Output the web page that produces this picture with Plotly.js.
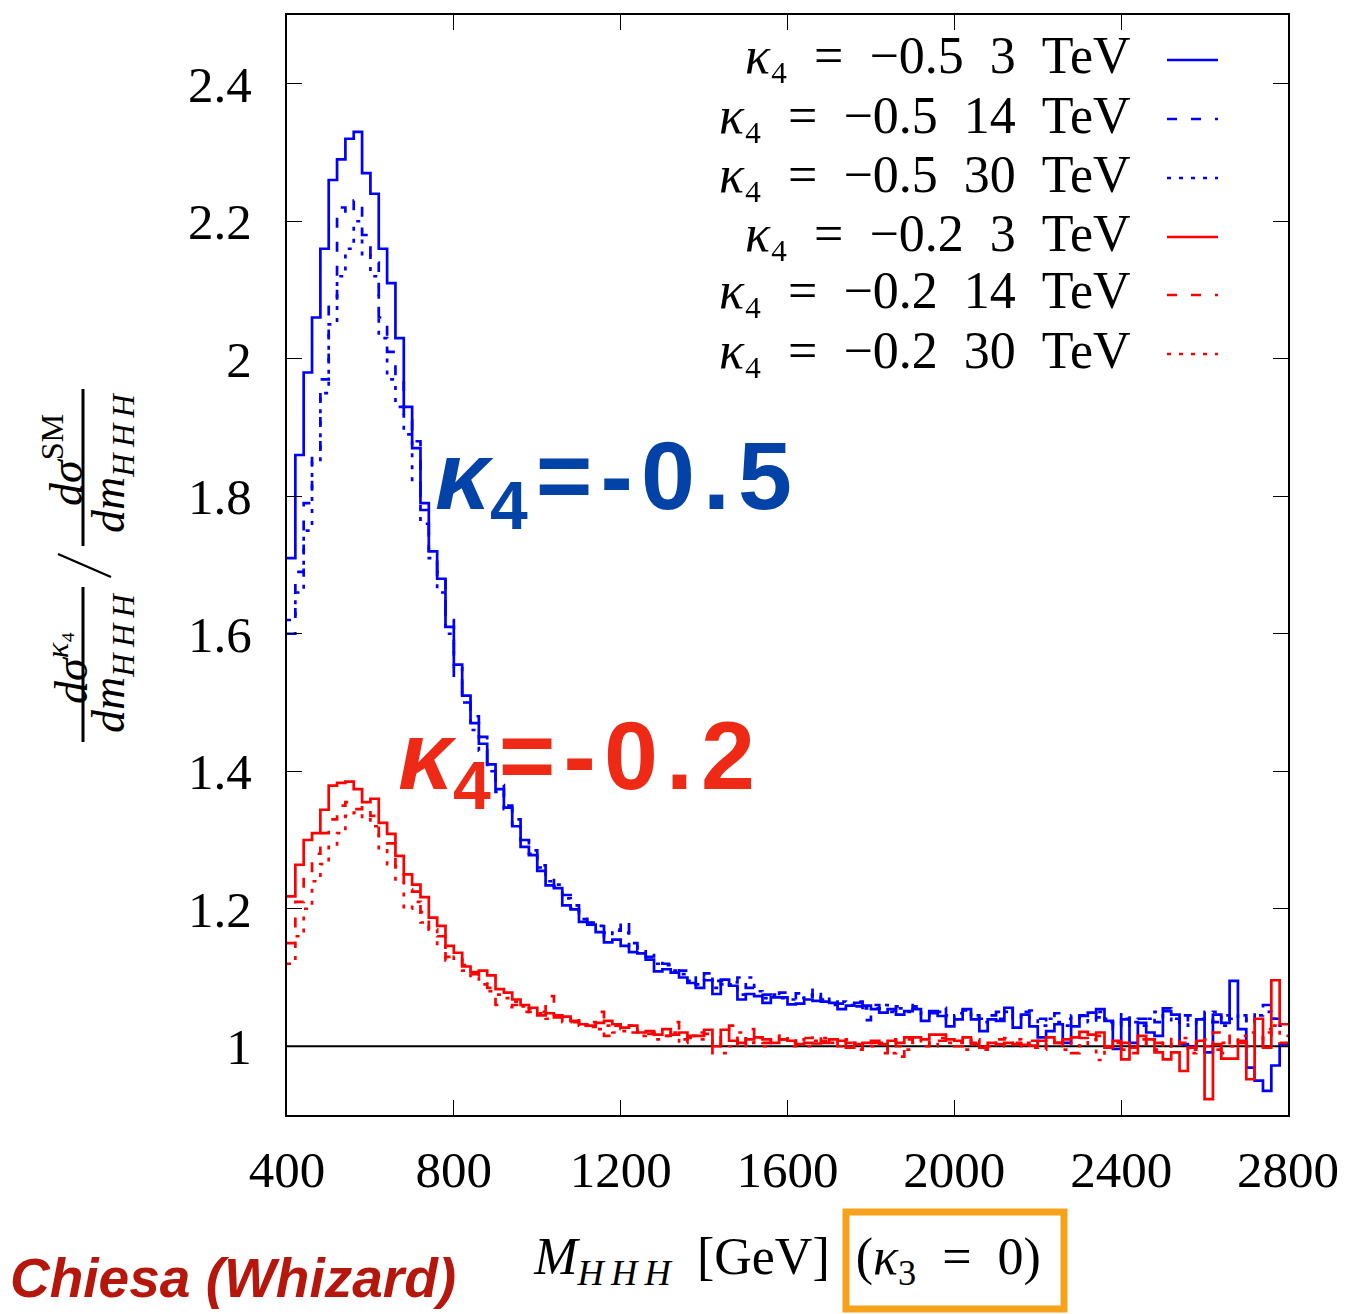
<!DOCTYPE html>
<html>
<head>
<meta charset="utf-8">
<script src="https://cdn.plot.ly/plotly-3.0.1.min.js"></script>
<style>
  html, body { margin: 0; padding: 0; background: #ffffff; }
  #chart { width: 1347px; height: 1314px; }
</style>
</head>
<body>
<div id="chart"></div>
<script>
// ---------------- data (ratio dσ^κ4/dm / dσ^SM/dm per 20 GeV bin) ----------------
const binStart = 400;
const binWidth = 20;
const nBins = 120;

const blue3TeV = [
  1.71, 1.86, 1.98, 2.06, 2.16, 2.26, 2.29, 2.32, 2.33, 2.27,
  2.24, 2.16, 2.11, 2.03, 1.93, 1.87, 1.79, 1.72, 1.68, 1.61,
  1.555, 1.51, 1.47, 1.44, 1.41, 1.374, 1.347, 1.32, 1.29, 1.278,
  1.255, 1.234, 1.23, 1.205, 1.199, 1.181, 1.177, 1.166, 1.151, 1.155,
  1.146, 1.137, 1.135, 1.126, 1.109, 1.112, 1.107, 1.100, 1.092, 1.085,
  1.096, 1.076, 1.097, 1.088, 1.068, 1.076, 1.073, 1.063, 1.071, 1.071,
  1.061, 1.062, 1.068, 1.066, 1.065, 1.063, 1.054, 1.059, 1.063, 1.059,
  1.054, 1.049, 1.054, 1.046, 1.051, 1.054, 1.037, 1.051, 1.044, 1.029,
  1.039, 1.054, 1.039, 1.022, 1.039, 1.037, 1.056, 1.027, 1.046, 1.029,
  1.013, 1.022, 1.032, 1.005, 1.029, 1.044, 1.049, 1.054, 1.037, 0.996,
  1.039, 1.005, 1.034, 1.020, 1.015, 1.051, 1.046, 1.003, 1.000, 1.039,
  0.991, 1.046, 1.034, 1.095, 1.025, 0.969, 0.950, 0.935, 0.972, 1.003
];
const blue14TeV = [
  1.60, 1.69, 1.79, 1.86, 1.97, 2.08, 2.22, 2.21, 2.23, 2.18,
  2.14, 2.06, 2.01, 1.97, 1.91, 1.88, 1.78, 1.72, 1.69, 1.62,
  1.53, 1.50, 1.48, 1.45, 1.41, 1.38, 1.35, 1.33, 1.30, 1.285,
  1.263, 1.245, 1.232, 1.22, 1.205, 1.19, 1.18, 1.178, 1.165, 1.168,
  1.183, 1.15, 1.14, 1.13, 1.13, 1.12, 1.115, 1.11, 1.10, 1.09,
  1.106, 1.095, 1.09, 1.093, 1.10, 1.085, 1.078, 1.075, 1.07, 1.078,
  1.07, 1.077, 1.072, 1.085, 1.068, 1.065, 1.062, 1.06, 1.058, 1.038,
  1.06, 1.055, 1.052, 1.058, 1.06, 1.055, 1.05, 1.048, 1.056, 1.045,
  1.048, 1.052, 1.045, 1.04, 1.045, 1.05, 1.055, 1.045, 1.05, 1.052,
  1.04, 1.035, 1.048, 1.04, 1.03, 1.045, 1.05, 1.042, 1.035, 1.025,
  1.05, 1.03, 1.04, 1.045, 1.035, 1.055, 1.04, 1.03, 1.045, 1.04,
  1.05, 1.035, 1.045, 1.04, 1.045, 1.03, 1.05, 1.06, 1.04, 1.045
];
const blue30TeV = [
  1.62, 1.66, 1.75, 1.85, 1.95, 2.05, 2.12, 2.16, 2.20, 2.15,
  2.12, 2.03, 1.97, 1.93, 1.89, 1.82, 1.76, 1.71, 1.66, 1.60,
  1.55, 1.50, 1.46, 1.43, 1.40, 1.37, 1.345, 1.32, 1.30, 1.28,
  1.26, 1.24, 1.235, 1.215, 1.20, 1.185, 1.18, 1.175, 1.16, 1.17,
  1.165, 1.145, 1.14, 1.135, 1.12, 1.118, 1.11, 1.105, 1.095, 1.09,
  1.10, 1.085, 1.095, 1.09, 1.075, 1.10, 1.08, 1.07, 1.075, 1.07,
  1.068, 1.07, 1.075, 1.07, 1.072, 1.06, 1.065, 1.06, 1.065, 1.055,
  1.055, 1.06, 1.05, 1.055, 1.05, 1.058, 1.045, 1.05, 1.05, 1.04,
  1.045, 1.05, 1.04, 1.035, 1.045, 1.04, 1.05, 1.04, 1.045, 1.04,
  1.03, 1.04, 1.035, 1.03, 1.045, 1.04, 1.035, 1.05, 1.04, 1.03,
  1.04, 1.035, 1.03, 1.04, 1.05, 1.04, 1.035, 1.045, 1.03, 1.04,
  1.035, 1.05, 1.03, 1.045, 1.04, 1.035, 1.045, 1.05, 1.04, 1.03
];
const red3TeV = [
  1.218, 1.264, 1.300, 1.310, 1.344, 1.379, 1.383, 1.385, 1.374, 1.355,
  1.360, 1.325, 1.309, 1.277, 1.250, 1.235, 1.217, 1.187, 1.175, 1.146,
  1.136, 1.116, 1.108, 1.110, 1.103, 1.083, 1.078, 1.068, 1.060, 1.056,
  1.045, 1.048, 1.042, 1.043, 1.037, 1.032, 1.030, 1.034, 1.037, 1.032,
  1.027, 1.030, 1.020, 1.022, 1.017, 1.025, 1.017, 1.020, 1.015, 1.015,
  1.024, 1.000, 1.024, 1.008, 1.005, 1.010, 1.013, 1.010, 1.005, 1.010,
  1.008, 1.003, 1.005, 1.004, 1.005, 1.010, 1.008, 0.998, 1.003, 1.005,
  1.008, 1.003, 1.008, 1.005, 1.013, 1.013, 1.010, 1.017, 1.017, 1.010,
  1.008, 1.013, 1.003, 0.998, 1.005, 1.003, 1.005, 1.003, 1.002, 1.001,
  1.008, 1.013, 1.005, 1.010, 1.013, 1.021, 1.017, 1.020, 0.998, 1.008,
  0.981, 0.998, 1.015, 1.010, 0.991, 0.981, 0.991, 0.964, 0.998, 1.008,
  0.923, 1.003, 0.982, 0.982, 1.008, 0.952, 1.040, 0.998, 1.096, 1.032
];
const red14TeV = [
  1.15, 1.21, 1.25, 1.28, 1.31, 1.33, 1.35, 1.355, 1.345, 1.35,
  1.335, 1.30, 1.295, 1.262, 1.228, 1.225, 1.195, 1.165, 1.16, 1.13,
  1.125, 1.118, 1.105, 1.10, 1.085, 1.06, 1.057, 1.06, 1.05, 1.055,
  1.05, 1.073, 1.045, 1.04, 1.035, 1.03, 1.028, 1.05, 1.015, 1.03,
  1.025, 1.02, 1.025, 1.018, 1.02, 1.015, 1.035, 1.01, 1.012, 1.02,
  1.018, 0.99, 1.015, 1.03, 0.995, 1.025, 1.01, 1.005, 1.015, 1.01,
  1.0, 1.015, 1.012, 1.018, 1.008, 1.0, 1.015, 1.005, 0.995, 1.01,
  1.005, 0.99, 1.01, 0.985, 1.01, 1.005, 1.0, 1.012, 1.008, 1.01,
  1.0, 1.01, 1.005, 0.995, 1.0, 1.01, 1.012, 1.005, 1.0, 1.008,
  0.995, 1.01, 1.005, 1.0, 0.99, 1.012, 1.005, 1.015, 1.0, 0.995,
  1.005, 0.99, 1.01, 1.0, 1.005, 0.995, 1.015, 1.005, 0.995, 1.01,
  1.0, 1.02, 0.99, 1.015, 1.005, 1.02, 1.0, 1.025, 1.01, 1.005
];
const red30TeV = [
  1.12, 1.16, 1.20, 1.24, 1.265, 1.29, 1.31, 1.335, 1.34, 1.33,
  1.32, 1.285, 1.265, 1.24, 1.20, 1.21, 1.18, 1.17, 1.145, 1.125,
  1.13, 1.11, 1.10, 1.09, 1.08, 1.075, 1.07, 1.065, 1.058, 1.05,
  1.048, 1.04, 1.045, 1.035, 1.04, 1.03, 1.035, 1.025, 1.03, 1.02,
  1.022, 1.03, 1.015, 1.02, 1.01, 1.015, 1.02, 1.005, 1.015, 1.01,
  1.01, 1.005, 0.99, 1.0, 1.02, 1.005, 1.012, 1.0, 1.01, 1.015,
  1.005, 1.01, 1.0, 1.008, 1.012, 1.005, 1.0, 1.01, 1.005, 0.998,
  1.0, 1.005, 0.99, 1.0, 0.995, 1.01, 1.005, 1.0, 1.012, 1.005,
  1.005, 0.995, 1.01, 1.0, 1.0, 1.005, 1.0, 1.01, 1.005, 0.998,
  1.0, 1.005, 1.01, 0.995, 1.005, 1.0, 1.01, 0.98, 1.0, 1.005,
  0.995, 1.005, 1.0, 1.01, 0.995, 1.005, 1.0, 1.012, 0.99, 1.005,
  1.01, 0.995, 1.005, 1.0, 1.015, 1.0, 1.01, 1.02, 1.03, 1.015
];

const seriesNames = [
  "κ4 = −0.5 3 TeV", "κ4 = −0.5 14 TeV", "κ4 = −0.5 30 TeV",
  "κ4 = −0.2 3 TeV", "κ4 = −0.2 14 TeV", "κ4 = −0.2 30 TeV"
];
const SP = "\u2002"; // en space (TeX-like wide spacing)
const TH = "\u2009"; // thin space
const HS = "\u200A"; // hair space
const K4 = "<i>κ</i>₄";
const legendLabels = [
  K4 + SP + "=" + SP + "−0.5" + SP + "3" + SP + "TeV",
  K4 + SP + "=" + SP + "−0.5" + SP + "14" + SP + "TeV",
  K4 + SP + "=" + SP + "−0.5" + SP + "30" + SP + "TeV",
  K4 + SP + "=" + SP + "−0.2" + SP + "3" + SP + "TeV",
  K4 + SP + "=" + SP + "−0.2" + SP + "14" + SP + "TeV",
  K4 + SP + "=" + SP + "−0.2" + SP + "30" + SP + "TeV"
];
const xTickVals = [400, 800, 1200, 1600, 2000, 2400, 2800];
const yTickVals = [1, 1.2, 1.4, 1.6, 1.8, 2, 2.2, 2.4];
const yTickText = ["1", "1.2", "1.4", "1.6", "1.8", "2", "2.2", "2.4"];

// ---------------- styles ----------------
const BLUE = "#0000ff", RED = "#ff0000";
const styles = [
  {color: BLUE, dash: "solid"}, {color: BLUE, dash: "10px,14px"}, {color: BLUE, dash: "4px,8px"},
  {color: RED, dash: "solid"},  {color: RED, dash: "10px,14px"},  {color: RED, dash: "4px,8px"}
];
const allSeries = [blue3TeV, blue14TeV, blue30TeV, red3TeV, red14TeV, red30TeV];

// bin edges (step histogram)
const edges = [];
for (let i = 0; i <= nBins; i++) edges.push(binStart + binWidth * i);

const traces = allSeries.map((vals, k) => ({
  type: "scatter",
  mode: "lines",
  name: seriesNames[k],
  x: edges,
  y: vals.concat([vals[vals.length - 1]]),
  line: {shape: "hv", color: styles[k].color, dash: styles[k].dash, width: 2.7},
  showlegend: false,
  hoverinfo: "x+y+name"
}));

// pixel -> paper helpers (plot area: x 287..1288, y 15..1115)
const PL = 287, PR = 1288, PT = 15, PB = 1115;
const px = v => (v - PL) / (PR - PL);
const py = v => (PB - v) / (PB - PT);

const SERIF = "Liberation Serif, DejaVu Serif, serif";
const annotations = [];
const shapes = [];

// y = 1 reference line
shapes.push({type: "line", xref: "paper", x0: 0, x1: 1, yref: "y", y0: 1, y1: 1,
  line: {color: "#000000", width: 2.2}, layer: "below"});

// manual legend (text right-aligned, sample line on the right)
const rowY = [60, 119, 178, 237, 295, 354];
legendLabels.forEach((lab, k) => {
  annotations.push({xref: "paper", yref: "paper", x: px(1131), y: py(rowY[k] - 4),
    xanchor: "right", yanchor: "middle", showarrow: false, text: lab,
    borderpad: 0, borderwidth: 0,
    font: {family: SERIF, size: 52, color: "#000"}});
  shapes.push({type: "line", xref: "paper", yref: "paper",
    x0: px(1167), x1: px(1218), y0: py(rowY[k]), y1: py(rowY[k]),
    line: {color: styles[k].color, dash: styles[k].dash, width: 2.7}});
});

// big labels
annotations.push({xref: "paper", yref: "paper", x: px(433), y: py(482), xanchor: "left", yanchor: "middle",
  showarrow: false, text: "<b><i>κ</i><sub>4</sub>" + HS + "=" + HS + "-" + HS + "0" + HS + "." + HS + "5</b>",
  font: {family: "Liberation Sans, Arial, sans-serif", size: 97, color: "#0343a8"}});
annotations.push({xref: "paper", yref: "paper", x: px(396), y: py(762), xanchor: "left", yanchor: "middle",
  showarrow: false, text: "<b><i>κ</i><sub>4</sub>" + HS + "=" + HS + "-" + HS + "0" + HS + "." + HS + "2</b>",
  font: {family: "Liberation Sans, Arial, sans-serif", size: 97, color: "#ee2916"}});

// Chiesa (Whizard)
annotations.push({xref: "paper", yref: "paper", x: px(8), y: py(1278), xanchor: "left", yanchor: "middle",
  showarrow: false, text: "<b><i>Chiesa (Whizard)</i></b>",
  font: {family: "Liberation Sans, Arial, sans-serif", size: 55, color: "#b5170c"}});

// orange box around (κ3 = 0)
shapes.push({type: "rect", xref: "paper", yref: "paper",
  x0: px(846), x1: px(1064), y0: py(1309), y1: py(1212),
  line: {color: "#f7a21b", width: 7}});

// y-axis title as a rotated fraction
const yT = {family: SERIF, size: 46, color: "#000"};
annotations.push({xref: "paper", yref: "paper", x: px(68), y: py(668), xanchor: "center", yanchor: "middle",
  showarrow: false, textangle: -90, text: "<i>dσ</i><sup><i>κ</i>₄</sup>", font: yT});
annotations.push({xref: "paper", yref: "paper", x: px(112), y: py(663), xanchor: "center", yanchor: "middle",
  showarrow: false, textangle: -90, text: "<i>dm</i><sub><i>H" + TH + "H" + TH + "H</i></sub>", font: yT});
annotations.push({xref: "paper", yref: "paper", x: px(63), y: py(460), xanchor: "center", yanchor: "middle",
  showarrow: false, textangle: -90, text: "<i>dσ</i><sup>SM</sup>", font: yT});
annotations.push({xref: "paper", yref: "paper", x: px(112), y: py(463), xanchor: "center", yanchor: "middle",
  showarrow: false, textangle: -90, text: "<i>dm</i><sub><i>H" + TH + "H" + TH + "H</i></sub>", font: yT});
shapes.push({type: "line", xref: "paper", yref: "paper", x0: px(83), x1: px(83), y0: py(587), y1: py(742),
  line: {color: "#000", width: 3}});
shapes.push({type: "line", xref: "paper", yref: "paper", x0: px(83), x1: px(83), y0: py(389), y1: py(546),
  line: {color: "#000", width: 3}});
// the rotated "/" between the two fractions
shapes.push({type: "line", xref: "paper", yref: "paper", x0: px(58), x1: px(111), y0: py(554), y1: py(577),
  line: {color: "#000", width: 2.4}});

const layout = {
  width: 1347, height: 1314,
  margin: {l: PL, r: 1347 - PR, t: PT, b: 1314 - PB},
  paper_bgcolor: "#ffffff", plot_bgcolor: "#ffffff",
  showlegend: false,
  xaxis: {
    range: [400, 2800], tickvals: xTickVals, ticktext: xTickVals.map(String),
    ticks: "inside", ticklen: 15, tickwidth: 1.3, tickcolor: "#000",
    showline: true, linecolor: "#000", linewidth: 2, mirror: "ticks",
    showgrid: false, zeroline: false, ticklabelstandoff: 9,
    tickfont: {family: SERIF, size: 51, color: "#000"},
    title: {text: "<i>M</i><sub><i>H" + TH + "H" + TH + "H</i></sub>" + SP + "[GeV]" + SP +
                  "(<i>κ</i><sub>3</sub>" + SP + "=" + SP + "0)",
      font: {family: SERIF, size: 52, color: "#000"}, standoff: 40}
  },
  yaxis: {
    range: [0.9, 2.5], tickvals: yTickVals, ticktext: yTickText,
    ticks: "inside", ticklen: 15, tickwidth: 1.3, tickcolor: "#000",
    showline: true, linecolor: "#000", linewidth: 2, mirror: "ticks",
    showgrid: false, zeroline: false, ticklabelstandoff: 23,
    tickfont: {family: SERIF, size: 51, color: "#000"}
  },
  annotations: annotations,
  shapes: shapes
};

Plotly.newPlot("chart", traces, layout, {displayModeBar: false, responsive: false});
</script>
</body>
</html>
